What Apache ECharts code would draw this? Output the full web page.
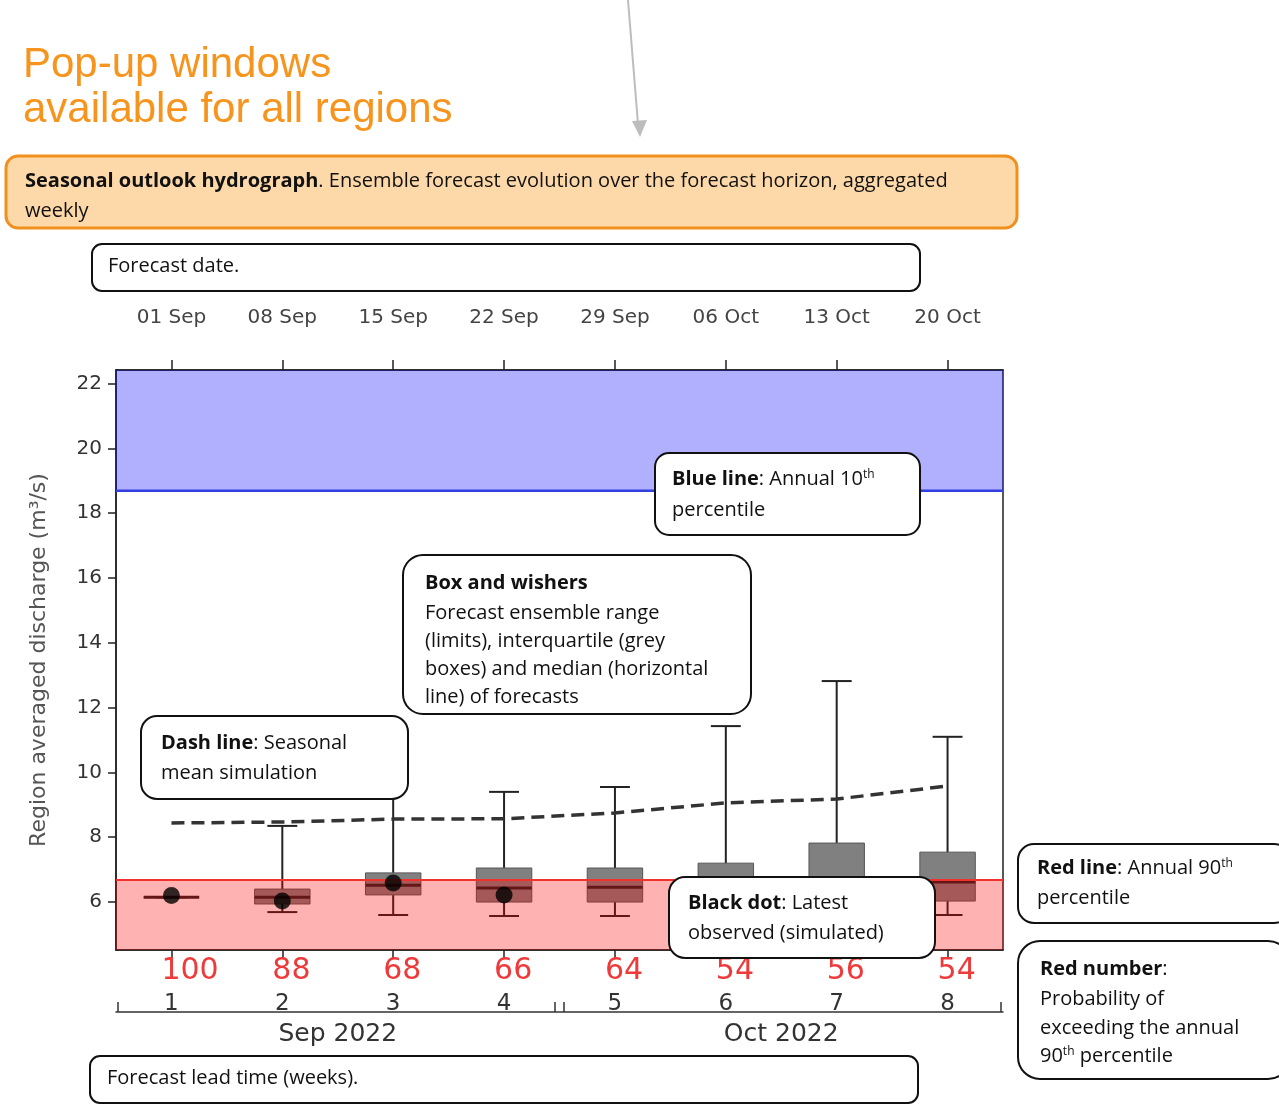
<!DOCTYPE html>
<html><head><meta charset="utf-8">
<script src="https://cdn.jsdelivr.net/npm/echarts@6/dist/echarts.min.js"></script>
<style>html,body{margin:0;padding:0;background:#fff}#c{width:1279px;height:1107px}</style>
</head><body><div id="c"></div>
<script>
// ---- data ----
const weeks = ['1','2','3','4','5','6','7','8'];
const forecastDates = ['01 Sep','08 Sep','15 Sep','22 Sep','29 Sep','06 Oct','13 Oct','20 Oct'];
const exceedProb = [100, 88, 68, 66, 64, 54, 56, 54];
const ensMin    = [6.15, 5.69, 5.60, 5.57, 5.57, 5.60, 5.60, 5.60];
const ensQ1     = [6.15, 5.94, 6.22, 6.00, 6.00, 6.15, 6.10, 6.03];
const ensMedian = [6.15, 6.15, 6.52, 6.43, 6.46, 6.46, 6.55, 6.62];
const ensQ3     = [6.15, 6.40, 6.90, 7.05, 7.05, 7.20, 7.82, 7.54];
const ensMax    = [6.15, 8.35, 10.8, 9.40, 9.55, 11.43, 12.82, 11.10];
const latestObs = [6.20, 6.03, 6.59, 6.22, null, null, null, null];
const seasonalMean = [8.44, 8.47, 8.56, 8.57, 8.75, 9.06, 9.18, 9.58];
const annualP90 = 6.68;
const annualP10 = 18.69;
const yTicks = [6, 8, 10, 12, 14, 16, 18, 20, 22];
const monthNames = ['Sep 2022', 'Oct 2022'];
const monthCenters = [2.5, 6.5];
const monthBrackets = [0.52, 4.46, 4.54, 8.48];
const Y_MIN = 4.52, Y_MAX = 22.42;

const boxData = weeks.map((w, i) => [i, ensMin[i], ensQ1[i], ensMedian[i], ensQ3[i], ensMax[i]]);
const thresholdData = [[0, annualP90, annualP10]];

const chart = echarts.init(document.getElementById('c'), null, {renderer: 'canvas'});
const AX = 'DejaVu Sans';
const NOTE = 'Open Sans';

function renderBox(params, api) {
  const i = api.value(0);
  const pMin = api.coord([i, api.value(1)]);
  const pQ1 = api.coord([i, api.value(2)]);
  const pMed = api.coord([i, api.value(3)]);
  const pQ3 = api.coord([i, api.value(4)]);
  const pMax = api.coord([i, api.value(5)]);
  const band = api.size([1, 0])[0];
  const bw = band * 0.5, cw = band * 0.27;
  const x = pMin[0];
  const wk = {stroke: '#222', lineWidth: 2};
  return {type: 'group', children: [
    {type: 'line', shape: {x1: x, y1: pMin[1], x2: x, y2: pQ1[1]}, style: wk},
    {type: 'line', shape: {x1: x, y1: pQ3[1], x2: x, y2: pMax[1]}, style: wk},
    {type: 'line', shape: {x1: x - cw / 2, y1: pMin[1], x2: x + cw / 2, y2: pMin[1]}, style: wk},
    {type: 'line', shape: {x1: x - cw / 2, y1: pMax[1], x2: x + cw / 2, y2: pMax[1]}, style: wk},
    {type: 'rect', shape: {x: x - bw / 2, y: pQ3[1], width: bw, height: pQ1[1] - pQ3[1]},
      style: {fill: 'rgba(100,100,100,0.82)', stroke: '#555', lineWidth: 1}},
    {type: 'line', shape: {x1: x - bw / 2, y1: pMed[1], x2: x + bw / 2, y2: pMed[1]},
      style: {stroke: '#222', lineWidth: 3}}
  ]};
}

function renderThresholds(params, api) {
  const cs = params.coordSys;
  const yRed = api.coord([0, api.value(1)])[1];
  const yBlue = api.coord([0, api.value(2)])[1];
  return {type: 'group', children: [
    {type: 'rect', shape: {x: cs.x, y: yRed, width: cs.width, height: cs.y + cs.height - yRed},
      style: {fill: 'rgba(255,0,0,0.30)'}},
    {type: 'rect', shape: {x: cs.x, y: cs.y, width: cs.width, height: yBlue - cs.y},
      style: {fill: 'rgba(0,0,255,0.31)'}},
    {type: 'line', shape: {x1: cs.x, y1: yRed, x2: cs.x + cs.width, y2: yRed},
      style: {stroke: '#f2302c', lineWidth: 2}},
    {type: 'line', shape: {x1: cs.x, y1: yBlue, x2: cs.x + cs.width, y2: yBlue},
      style: {stroke: '#3340e0', lineWidth: 2.5}}
  ]};
}

// annotation helpers
function noteBox(x, y, w, h, r) {
  return {type: 'rect', z: 100, shape: {x: x, y: y, width: w, height: h, r: r},
    style: {fill: '#fff', stroke: '#111', lineWidth: 2}};
}
const rich = {
  b: {fontFamily: NOTE, fontSize: 20, fontWeight: 'bold', fill: '#111'},
  n: {fontFamily: NOTE, fontSize: 20, fill: '#111'},
  s: {fontFamily: NOTE, fontSize: 12, fill: '#111', verticalAlign: 'top'}
};
function noteText(x, y, txt) {
  return {type: 'text', z: 101, style: {x: x, y: y, text: txt, rich: rich,
    fontFamily: NOTE, fontSize: 20, fill: '#111', verticalAlign: 'middle', align: 'left'}};
}

const graphics = [
  // title
  {type: 'text', z: 100, style: {x: 23, y: 65, text: 'Pop-up windows', fontFamily: 'Liberation Sans', fontSize: 42, fill: '#f7941d', verticalAlign: 'middle'}},
  {type: 'text', z: 100, style: {x: 23, y: 110, text: 'available for all regions', fontFamily: 'Liberation Sans', fontSize: 42, fill: '#f7941d', verticalAlign: 'middle'}},
  // arrow
  {type: 'line', z: 100, shape: {x1: 628, y1: 0, x2: 638, y2: 124}, style: {stroke: '#bdbdbd', lineWidth: 2}},
  {type: 'polygon', z: 100, shape: {points: [[640, 137], [632, 121], [647, 120]]}, style: {fill: '#bdbdbd'}},
  // orange box
  {type: 'rect', z: 100, shape: {x: 6, y: 156, width: 1011, height: 72, r: 12}, style: {fill: '#fdd8a8', stroke: '#f0901e', lineWidth: 3}},
  noteText(25, 181, '{b|Seasonal outlook hydrograph}{n|. Ensemble forecast evolution over the forecast horizon, aggregated}'),
  noteText(25, 211, '{n|weekly}'),
  // forecast date
  noteBox(92, 244, 828, 47, 10),
  noteText(108, 266, '{n|Forecast date.}'),
  // blue line
  noteBox(655, 453, 265, 82, 14),
  noteText(672, 479, '{b|Blue line}{n|: Annual 10}{s|th}'),
  noteText(672, 510, '{n|percentile}'),
  // box and whiskers
  noteBox(403, 555, 348, 159, 20),
  noteText(425, 583, '{b|Box and wishers}'),
  noteText(425, 613, '{n|Forecast ensemble range}'),
  noteText(425, 641, '{n|(limits), interquartile (grey}'),
  noteText(425, 669, '{n|boxes) and median (horizontal}'),
  noteText(425, 697, '{n|line) of forecasts}'),
  // dash line
  noteBox(141, 716, 267, 83, 16),
  noteText(161, 743, '{b|Dash line}{n|: Seasonal}'),
  noteText(161, 773, '{n|mean simulation}'),
  // black dot
  noteBox(669, 877, 266, 81, 16),
  noteText(688, 903, '{b|Black dot}{n|: Latest}'),
  noteText(688, 933, '{n|observed (simulated)}'),
  // red line
  noteBox(1018, 844, 272, 79, 16),
  noteText(1037, 868, '{b|Red line}{n|: Annual 90}{s|th}'),
  noteText(1037, 898, '{n|percentile}'),
  // red number
  noteBox(1018, 941, 272, 138, 22),
  noteText(1040, 969, '{b|Red number}{n|:}'),
  noteText(1040, 999, '{n|Probability of}'),
  noteText(1040, 1028, '{n|exceeding the annual}'),
  noteText(1040, 1056, '{n|90}{s|th}{n| percentile}'),
  // lead time
  noteBox(90, 1056, 828, 47, 10),
  noteText(107, 1078, '{n|Forecast lead time (weeks).}')
];

const option = {
  backgroundColor: '#ffffff',
  animation: false,
  grid: {left: 116, top: 370, width: 887, height: 580, show: true, borderColor: '#222', borderWidth: 1.5, backgroundColor: 'transparent'},
  xAxis: [
    { // bottom: red probability numbers
      type: 'category', data: weeks, position: 'bottom', boundaryGap: true,
      axisLine: {show: true, lineStyle: {color: '#222', width: 1.5}},
      axisTick: {show: true, alignWithLabel: true, length: 9, lineStyle: {color: '#222', width: 1.5}},
      axisLabel: {margin: 6, interval: 0,
        formatter: (v, idx) => '{r|' + exceedProb[idx] + '}',
        rich: {r: {fontFamily: AX, fontSize: 30, color: '#ee3a3a', width: 20, align: 'left'}}},
      splitLine: {show: false}
    },
    { // bottom: lead-time week numbers
      type: 'category', data: weeks, position: 'bottom', boundaryGap: true,
      axisLine: {show: false}, axisTick: {show: false},
      axisLabel: {margin: 43, interval: 0, fontFamily: AX, fontSize: 23, color: '#333'},
      splitLine: {show: false}
    },
    { // top: forecast dates
      type: 'category', data: forecastDates, position: 'top', boundaryGap: true,
      axisLine: {show: true, lineStyle: {color: '#222', width: 1.5}},
      axisTick: {show: true, alignWithLabel: true, length: 10, lineStyle: {color: '#222', width: 1.5}},
      axisLabel: {margin: 42, interval: 0, fontFamily: AX, fontSize: 20, color: '#444'},
      splitLine: {show: false}
    },
    { // month brackets
      type: 'value', min: 0.5, max: 8.5, position: 'bottom', offset: 62,
      axisLine: {show: true, lineStyle: {color: '#333', width: 1.5}},
      axisTick: {show: true, inside: true, length: 10, customValues: monthBrackets, lineStyle: {color: '#333', width: 1.5}},
      axisLabel: {show: true, margin: 10, customValues: monthCenters, fontFamily: AX, fontSize: 25, color: '#333',
        formatter: v => monthNames[monthCenters.indexOf(v)]},
      splitLine: {show: false}
    }
  ],
  yAxis: {
    type: 'value', min: Y_MIN, max: Y_MAX,
    name: 'Region averaged discharge (m³/s)', nameLocation: 'middle', nameGap: 66,
    nameTextStyle: {fontFamily: AX, fontSize: 22, color: '#555'},
    axisLine: {show: true, lineStyle: {color: '#222', width: 1.5}},
    axisTick: {show: true, length: 8, customValues: yTicks, lineStyle: {color: '#222', width: 1.5}},
    axisLabel: {margin: 14, customValues: yTicks, fontFamily: AX, fontSize: 20, color: '#333'},
    splitLine: {show: false}
  },
  series: [
    {
      name: 'ensemble', type: 'custom', xAxisIndex: 0, z: 2,
      renderItem: renderBox, encode: {x: 0, y: [1, 2, 3, 4, 5]}, data: boxData
    },
    {
      name: 'thresholds', type: 'custom', xAxisIndex: 0, z: 4, silent: true,
      renderItem: renderThresholds, encode: {x: 0, y: [1, 2]}, data: thresholdData
    },
    {
      name: 'seasonal mean', type: 'line', xAxisIndex: 0, z: 5, data: seasonalMean,
      symbol: 'none', smooth: false,
      lineStyle: {color: '#333', width: 3.5, type: [13, 7]}
    },
    {
      name: 'latest observed', type: 'scatter', xAxisIndex: 0, z: 10, data: latestObs,
      symbol: 'circle', symbolSize: 17, itemStyle: {color: '#000'}
    }
  ],
  graphic: graphics
};
chart.setOption(option);
</script>
</body></html>
